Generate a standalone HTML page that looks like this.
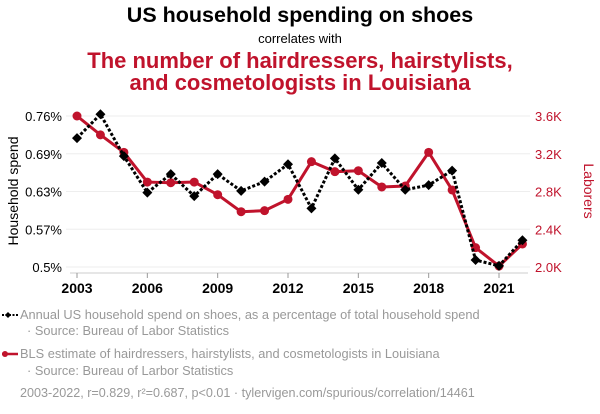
<!DOCTYPE html>
<html><head><meta charset="utf-8"><style>
body{margin:0;background:#fff;width:600px;height:414px;overflow:hidden;font-family:"Liberation Sans",sans-serif}
svg{display:block}
</style></head><body>
<svg width="600" height="414" xmlns="http://www.w3.org/2000/svg" font-family="Liberation Sans, sans-serif">
<text x="300" y="22" text-anchor="middle" font-size="21.5" font-weight="bold" fill="#000">US household spending on shoes</text>
<text x="300" y="43" text-anchor="middle" font-size="13" fill="#000">correlates with</text>
<text x="300" y="68" text-anchor="middle" font-size="22" font-weight="bold" fill="#c0132c">The number of hairdressers, hairstylists,</text>
<text x="300" y="90" text-anchor="middle" font-size="22" font-weight="bold" fill="#c0132c">and cosmetologists in Louisiana</text>
<g id="grid"></g>
<g id="axes"></g>
<g id="series"></g>
<text transform="translate(18,191) rotate(-90)" text-anchor="middle" font-size="14" fill="#000">Household spend</text>
<text transform="translate(584,191) rotate(90)" text-anchor="middle" font-size="14" fill="#c0132c">Laborers</text>
<g>
<line x1="2" y1="315" x2="18" y2="315" stroke="#000" stroke-width="2" stroke-dasharray="2,1.5"/>
<path d="M5 315 L8 312 L11 315 L8 318Z" fill="#000"/>
<text x="20" y="319" font-size="12.8" fill="#999">Annual US household spend on shoes, as a percentage of total household spend</text>
<text x="27" y="335" font-size="12.8" fill="#999">· Source: Bureau of Labor Statistics</text>
</g>
<g>
<line x1="2" y1="354" x2="18" y2="354" stroke="#c0132c" stroke-width="2.5"/>
<circle cx="5" cy="354" r="3" fill="#c0132c"/>
<text x="20" y="358" font-size="12.8" fill="#999">BLS estimate of hairdressers, hairstylists, and cosmetologists in Louisiana</text>
<text x="27" y="375" font-size="12.8" fill="#999">· Source: Bureau of Larbor Statistics</text>
</g>
<text x="20" y="397" font-size="12.6" fill="#999">2003-2022, r=0.829, r²=0.687, p&lt;0.01 · tylervigen.com/spurious/correlation/14461</text>
</svg>
<script>
const years=[2003,2004,2005,2006,2007,2008,2009,2010,2011,2012,2013,2014,2015,2016,2017,2018,2019,2020,2021,2022];
const shoes=[0.722,0.763,0.691,0.628,0.660,0.622,0.660,0.631,0.647,0.677,0.601,0.687,0.633,0.679,0.633,0.641,0.666,0.512,0.502,0.546];
const laborers=[3.60,3.40,3.215,2.90,2.893,2.90,2.766,2.586,2.597,2.717,3.116,3.01,3.02,2.848,2.858,3.215,2.816,2.205,2.01,2.244];
const leftTickVals=[0.5,0.565,0.63,0.695,0.76];
const leftTickLabels=["0.5%","0.57%","0.63%","0.69%","0.76%"];
const rightTickVals=[2.0,2.4,2.8,3.2,3.6];
const rightTickLabels=["2.0K","2.4K","2.8K","3.2K","3.6K"];
const xTickYears=[2003,2006,2009,2012,2015,2018,2021];

const NS="http://www.w3.org/2000/svg";
const X0=77,X1=499,YT=116,YB=267;
const x=y=>X0+(y-2003)*(X1-X0)/18;
const yL=v=>YB-(v-0.5)/(0.76-0.5)*(YB-YT);
const yR=v=>YB-(v-2.0)/(3.6-2.0)*(YB-YT);
function mk(tag,attrs,parent){const e=document.createElementNS(NS,tag);for(const k in attrs)e.setAttribute(k,attrs[k]);parent.appendChild(e);return e;}
const grid=document.getElementById('grid'),axes=document.getElementById('axes'),ser=document.getElementById('series');
leftTickVals.forEach((v,i)=>{
  const yy=yL(v);
  const g=mk('line',{x1:66,x2:530,y1:yy,y2:yy,stroke:'#eee','stroke-width':1},grid);
  
  
  const t=mk('text',{x:62,y:yy+5,'text-anchor':'end','font-size':13,fill:'#000'},axes);
  t.textContent=leftTickLabels[i];
  
  
});
rightTickVals.forEach((v,i)=>{
  const yy=yR(v);
  const t=mk('text',{x:535,y:yy+5,'font-size':13,fill:'#c0132c'},axes);
  t.textContent=rightTickLabels[i];
  
  
});
const ax=mk('line',{x1:70,x2:528,y1:273,y2:273,stroke:'#ccc','stroke-width':1},axes);


xTickYears.forEach(yr=>{
  const xx=x(yr);
  mk('line',{x1:xx,x2:xx,y1:273,y2:278,stroke:'#999'},axes);
  const t=mk('text',{x:xx,y:293,'text-anchor':'middle','font-size':14,'font-weight':'bold',fill:'#000'},axes);
  t.textContent=yr;
  
  
});
const rp=mk('polyline',{points:years.map((yr,i)=>x(yr)+','+yR(laborers[i])).join(' '),fill:'none',stroke:'#c0132c','stroke-width':3},ser);


years.forEach((yr,i)=>{
  const c=mk('circle',{cx:x(yr),cy:yR(laborers[i]),r:4.5,fill:'#c0132c'},ser);
  
  
});
const bp=mk('polyline',{points:years.map((yr,i)=>x(yr)+','+yL(shoes[i])).join(' '),fill:'none',stroke:'#000','stroke-width':3,'stroke-dasharray':'3,2'},ser);


years.forEach((yr,i)=>{
  const cx=x(yr),cy=yL(shoes[i]);
  const d=mk('path',{d:`M${cx-5} ${cy} L${cx} ${cy-5} L${cx+5} ${cy} L${cx} ${cy+5}Z`,fill:'#000'},ser);
  
  
});
</script>
</body></html>
